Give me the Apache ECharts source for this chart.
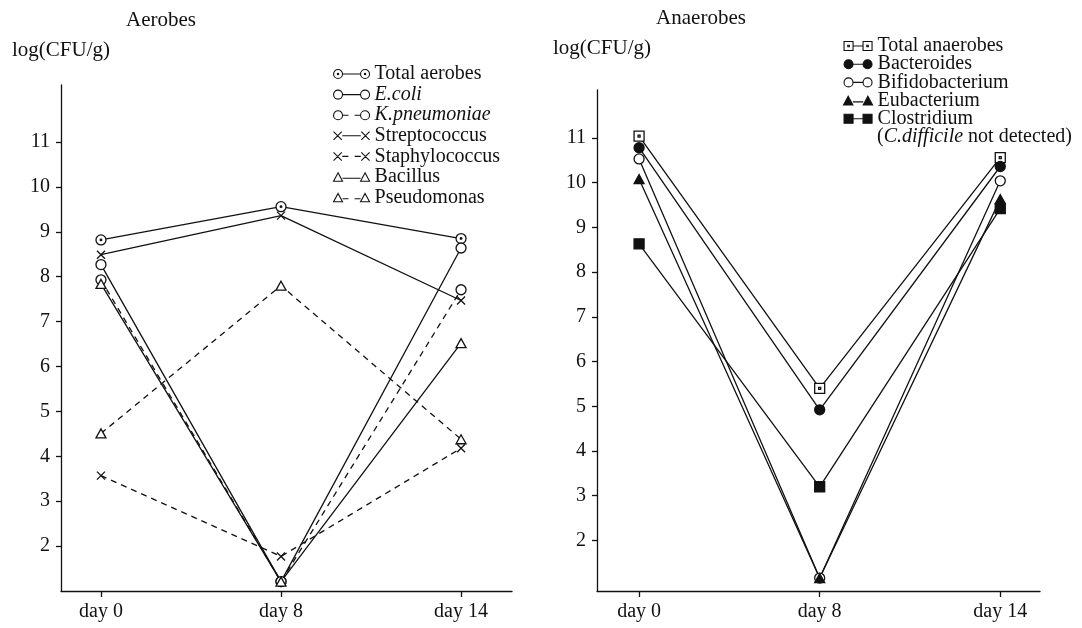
<!DOCTYPE html>
<html>
<head>
<meta charset="utf-8">
<script src="https://cdn.jsdelivr.net/npm/echarts@6/dist/echarts.min.js"></script>
<style>
html,body{margin:0;padding:0;background:#fff;}
#c{width:1082px;height:628px;}
</style>
</head>
<body>
<div id="c"></div>
<script>
// ---------- data ----------
const days = ['day 0', 'day 8', 'day 14'];
const yTicks = [2, 3, 4, 5, 6, 7, 8, 9, 10, 11];

const aerobeNames = ['Total aerobes', 'E.coli', 'K.pneumoniae', 'Streptococcus', 'Staphylococcus', 'Bacillus', 'Pseudomonas'];
const totalAerobes   = [8.82, 9.56, 8.85];
const eColi          = [8.27, 1.21, 8.64];
const kPneumoniae    = [7.93, 1.21, 7.71];
const streptococcus  = [8.49, 9.36, 7.47];
const staphylococcus = [3.57, 1.77, 4.18];
const bacillus       = [7.84, 1.21, 6.52];
const pseudomonas    = [4.51, 7.80, 4.38];

const anaerobeNames = ['Total anaerobes', 'Bacteroides', 'Bifidobacterium', 'Eubacterium', 'Clostridium'];
const totalAnaerobes  = [11.04, 5.40, 10.56];
const bacteroides     = [10.78, 4.92, 10.36];
const bifidobacterium = [10.53, 1.16, 10.04];
const eubacterium     = [10.08, 1.16, 9.63];
const clostridium     = [8.63, 3.20, 9.42];

// ---------- styling helpers ----------
const FONT = '"Liberation Serif", "DejaVu Serif", serif';
const FS = 20;
const SYM = {
  dotCircle: 'path://M-10,0 A10,10 0 1,0 10,0 A10,10 0 1,0 -10,0 Z M-1.6,0 A1.6,1.6 0 1,0 1.6,0 A1.6,1.6 0 1,0 -1.6,0 Z',
  circle: 'path://M-10,0 A10,10 0 1,0 10,0 A10,10 0 1,0 -10,0 Z',
  cross: 'path://M-10,-10 L10,10 M-10,10 L10,-10',
  tri: 'path://M0,-10 L10,8 L-10,8 Z',
  dotSquare: 'path://M-10,-10 L10,-10 L10,10 L-10,10 Z M-2,-2 L2,-2 L2,2 L-2,2 Z',
  square: 'path://M-10,-10 L10,-10 L10,10 L-10,10 Z'
};
function circleAt(cx, cy, r) {
  return 'M' + (cx - r) + ',' + cy + ' A' + r + ',' + r + ' 0 1,0 ' + (cx + r) + ',' + cy +
         ' A' + r + ',' + r + ' 0 1,0 ' + (cx - r) + ',' + cy + ' Z';
}
function markerAt(kind, cx) {
  const cy = 50;
  switch (kind) {
    case 'dotCircle': return circleAt(cx, cy, 45) + ' ' + circleAt(cx, cy, 7);
    case 'circle': return circleAt(cx, cy, 45);
    case 'cross': return 'M' + (cx - 40) + ',10 L' + (cx + 40) + ',90 M' + (cx - 40) + ',90 L' + (cx + 40) + ',10';
    case 'tri': return 'M' + cx + ',8 L' + (cx + 45) + ',92 L' + (cx - 45) + ',92 Z';
    case 'dotSquare': return 'M' + (cx - 45) + ',5 L' + (cx + 45) + ',5 L' + (cx + 45) + ',95 L' + (cx - 45) + ',95 Z M' +
                             (cx - 8) + ',42 L' + (cx + 8) + ',42 L' + (cx + 8) + ',58 L' + (cx - 8) + ',58 Z';
    case 'square': return 'M' + (cx - 45) + ',5 L' + (cx + 45) + ',5 L' + (cx + 45) + ',95 L' + (cx - 45) + ',95 Z';
  }
}
function legendIcon(kind, dashed, w) {
  const l = 50, r = w - 50, ly = kind === 'tri' ? 62 : 50;
  let line;
  if (dashed) {
    const a = l + 45, b = r - 45, seg = (b - a) * 0.33;
    line = 'M' + a + ',' + ly + ' L' + (a + seg) + ',' + ly + ' M' + (b - seg) + ',' + ly + ' L' + b + ',' + ly;
  } else {
    line = 'M' + (l + 45) + ',' + ly + ' L' + (r - 45) + ',' + ly;
  }
  return 'path://' + markerAt(kind, l) + ' ' + markerAt(kind, r) + ' ' + line;
}

function mkSeries(name, values, kind, filled, dashed, gridIdx, size) {
  return {
    name: name,
    type: 'line',
    xAxisIndex: gridIdx, yAxisIndex: gridIdx,
    data: values.map((v, i) => [i, v]),
    symbol: SYM[kind],
    symbolSize: size || 10,
    symbolKeepAspect: true,
    showAllSymbol: true,
    animation: false,
    lineStyle: { color: '#111', width: 1.3, type: dashed ? [6, 5] : 'solid' },
    itemStyle: { color: filled ? '#111' : (kind === 'cross' ? 'rgba(0,0,0,0)' : '#fff'), borderColor: '#111', borderWidth: 1.3 },
    emphasis: { disabled: true },
    z: 3
  };
}

const aerobeSpec = [
  [totalAerobes, 'dotCircle', false, false],
  [eColi, 'circle', false, false],
  [kPneumoniae, 'circle', false, true],
  [streptococcus, 'cross', false, false, 8],
  [staphylococcus, 'cross', false, true, 8],
  [bacillus, 'tri', false, false],
  [pseudomonas, 'tri', false, true]
];
const anaerobeSpec = [
  [totalAnaerobes, 'dotSquare', false, false],
  [bacteroides, 'circle', true, false],
  [bifidobacterium, 'circle', false, false],
  [eubacterium, 'tri', true, false],
  [clostridium, 'square', true, false]
];

const series = [];
aerobeSpec.forEach((s, i) => series.push(mkSeries(aerobeNames[i], s[0], s[1], s[2], s[3], 0, s[4])));
anaerobeSpec.forEach((s, i) => series.push(mkSeries(anaerobeNames[i], s[0], s[1], s[2], s[3], 1, s[4])));

function legendData(names, spec, w) {
  return names.map((n, i) => ({
    name: n,
    icon: legendIcon(spec[i][1], spec[i][3], w),
    itemStyle: { color: spec[i][2] ? '#111' : (spec[i][1] === 'cross' ? 'rgba(0,0,0,0)' : '#fff'), borderColor: '#111', borderWidth: 1.1 },
    textStyle: (n === 'E.coli' || n === 'K.pneumoniae') ? { fontStyle: 'italic' } : {}
  }));
}

function xAxis(gridIdx, min, max) {
  return {
    type: 'value', gridIndex: gridIdx, min: min, max: max,
    axisLine: { show: true, onZero: false, lineStyle: { color: '#111', width: 1.3 } },
    axisTick: { show: true, length: 6, customValues: [0, 1, 2], lineStyle: { color: '#111', width: 1.3 } },
    axisLabel: { customValues: [0, 1, 2], formatter: v => days[Math.round(v)], color: '#111', fontFamily: FONT, fontSize: FS, margin: 11 },
    splitLine: { show: false }
  };
}
function yAxis(gridIdx, min, max) {
  return {
    type: 'value', gridIndex: gridIdx, min: min, max: max,
    axisLine: { show: true, onZero: false, lineStyle: { color: '#111', width: 1.3 } },
    axisTick: { show: true, length: 5, customValues: yTicks, lineStyle: { color: '#111', width: 1.3 } },
    axisLabel: { customValues: yTicks, color: '#111', fontFamily: FONT, fontSize: FS, margin: 11 },
    splitLine: { show: false }
  };
}
const titleStyle = { fontFamily: FONT, fontSize: 21, fontWeight: 'normal', color: '#111' };

const option = {
  backgroundColor: '#fff',
  animation: false,
  textStyle: { fontFamily: FONT, color: '#111' },
  title: [
    { text: 'Aerobes', left: 156, top: 5, textAlign: 'center', textStyle: titleStyle },
    { text: 'Anaerobes', left: 696, top: 3, textAlign: 'center', textStyle: titleStyle },
    { text: 'log(CFU/g)', left: 7, top: 35, textStyle: titleStyle },
    { text: 'log(CFU/g)', left: 548, top: 33, textStyle: titleStyle }
  ],
  grid: [
    { left: 61, right: 570, top: 85, bottom: 37 },
    { left: 597, right: 42, top: 90, bottom: 37 }
  ],
  xAxis: [xAxis(0, -0.222, 2.283), xAxis(1, -0.233, 2.22)],
  yAxis: [yAxis(0, 1, 12.27), yAxis(1, 0.87, 12.07)],
  legend: [
    {
      orient: 'vertical', left: 328, top: 59, itemWidth: 36, itemHeight: 9, itemGap: 0.6,
      selectedMode: false,
      data: legendData(aerobeNames, aerobeSpec, 370),
      textStyle: { fontFamily: FONT, fontSize: FS, color: '#111' }
    },
    {
      orient: 'vertical', left: 838, top: 31, itemWidth: 29, itemHeight: 9, itemGap: -1.8,
      selectedMode: false,
      data: legendData(anaerobeNames, anaerobeSpec, 290),
      textStyle: { fontFamily: FONT, fontSize: FS, color: '#111' }
    }
  ],
  graphic: [
    {
      type: 'text', left: 877, top: 127,
      style: {
        text: '({i|C.difficile} not detected)',
        font: FS + 'px ' + FONT, fill: '#111',
        rich: { i: { fontStyle: 'italic', fontFamily: FONT, fontSize: FS, fill: '#111' } }
      }
    }
  ],
  series: series
};

const chart = echarts.init(document.getElementById('c'), null, { renderer: 'canvas' });
chart.setOption(option);
</script>
</body>
</html>
